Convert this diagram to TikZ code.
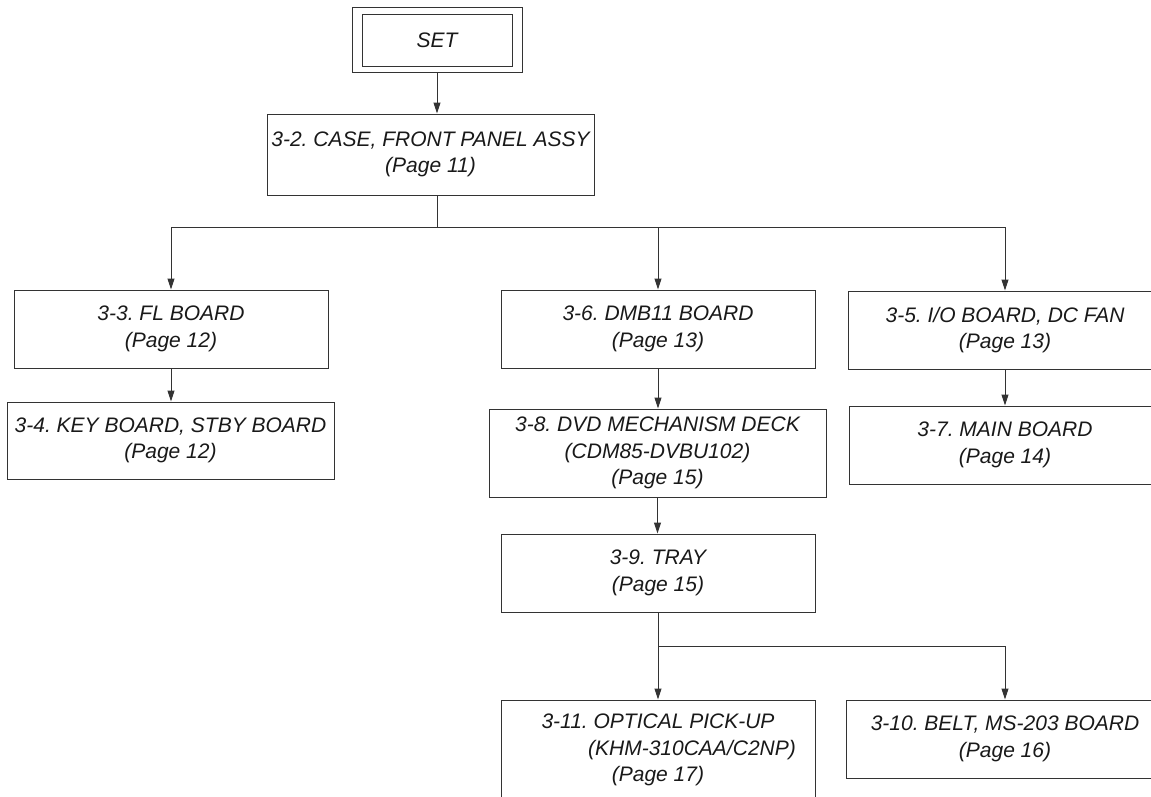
\documentclass[tikz,border=0pt]{standalone}
\usepackage{fontspec}
\setmainfont{Liberation Sans}
\usetikzlibrary{arrows.meta,calc}
\frenchspacing
\begin{document}
\begin{tikzpicture}[x=1pt,y=-1pt,
  every node/.style={font=\fontsize{21}{26.5}\selectfont\itshape\frenchspacing, text=black!90},
  box/.style={draw=black!80, line width=1pt, inner sep=0pt, align=center},
  conn/.style={draw=black!80, line width=1pt},
  arr/.style={conn, -{Triangle[length=11pt,width=7pt]}}]
\useasboundingbox (0,0) rectangle (1151,796);
\fill[white] (0,0) rectangle (1151,796);

% boxes
\node[box, minimum width=170, minimum height=65] (setout) at (437,39.5) {};
\node[box, minimum width=150, minimum height=52] (setin) at (437,40) {SET};
\node[box, minimum width=327, minimum height=81] (case) at (430.5,154.5) {3-2. CASE, FRONT PANEL ASSY\\(Page 11)};
\node[box, minimum width=314, minimum height=78] (fl) at (171,329) {3-3. FL BOARD\\(Page 12)};
\node[box, minimum width=327, minimum height=77] (key) at (170.5,440.5) {3-4. KEY BOARD, STBY BOARD\\(Page 12)};
\node[box, minimum width=314, minimum height=78] (dmb) at (658,329) {3-6. DMB11 BOARD\\(Page 13)};
\node[box, minimum width=314, minimum height=78] (io) at (1005,330) {3-5. I/O BOARD, DC FAN\\(Page 13)};
\node[box, minimum width=312, minimum height=78] (main) at (1005,445) {3-7. MAIN BOARD\\(Page 14)};
\node[box, minimum width=337, minimum height=88] (dvd) at (657.5,453) {3-8. DVD MECHANISM DECK\\(CDM85-DVBU102)\\(Page 15)};
\node[box, minimum width=314, minimum height=78] (tray) at (658,573) {3-9. TRAY\\(Page 15)};
\node[box, minimum width=314, minimum height=100] (opt) at (658,750) {3-11. OPTICAL PICK-UP\\\hspace*{68pt}(KHM-310CAA/C2NP)\\(Page 17)};
\node[box, minimum width=318, minimum height=78] (belt) at (1005,739) {3-10. BELT, MS-203 BOARD\\(Page 16)};

% connectors
\coordinate (j1) at (437,227);
\coordinate (j2) at (658,646);
\draw[arr] (setout.south) -- (setout.south |- case.north);
\draw[conn] (setout.south |- case.south) -- (j1);
\draw[conn] (fl.north |- j1) -- (io.north |- j1);
\draw[arr] (fl.north |- j1) -- (fl.north);
\draw[arr] (dmb.north |- j1) -- (dmb.north);
\draw[arr] (io.north |- j1) -- (io.north);
\draw[arr] (fl.south) -- (fl.south |- key.north);
\draw[arr] (dmb.south) -- (dmb.south |- dvd.north);
\draw[arr] (dvd.south) -- (dvd.south |- tray.north);
\draw[arr] (io.south) -- (io.south |- main.north);
\draw[conn] (tray.south) -- (j2);
\draw[arr] (j2) -- (opt.north);
\draw[arr] (j2) -| (belt.north);
\end{tikzpicture}
\end{document}
